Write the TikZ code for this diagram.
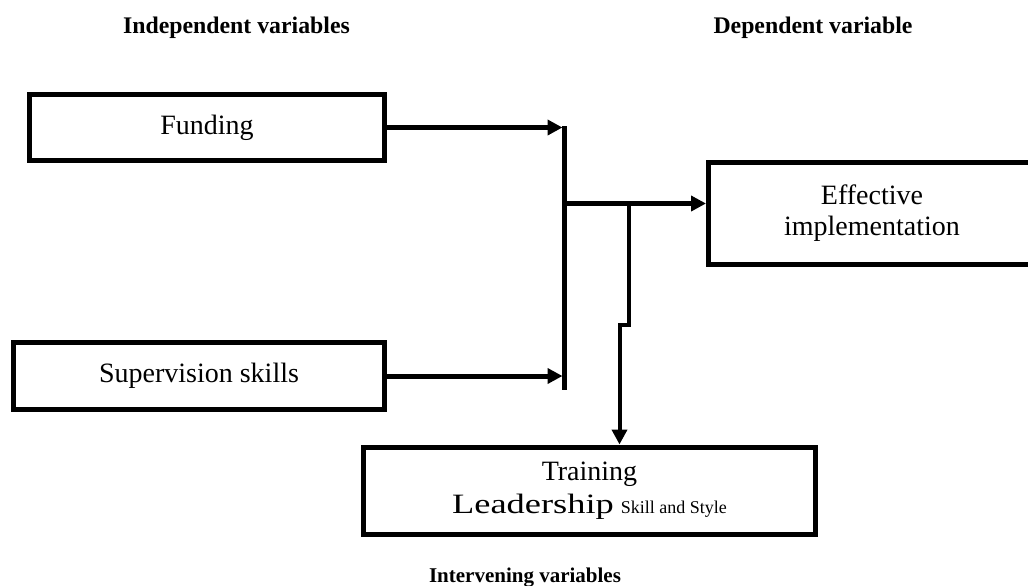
\documentclass[tikz,border=0pt]{standalone}
\usepackage{fontspec}
\setmainfont{Liberation Serif}
\usetikzlibrary{arrows.meta}
\tikzset{
  var box/.style={draw,line width=2.5pt,align=center,inner sep=0pt,
    font=\fontsize{14}{15.5}\selectfont},
  var link/.style={line width=2.5pt,shorten >=1pt,
    -{Triangle[length=7.5pt,width=7.5pt]}},
  var head/.style={anchor=base,font=\fontsize{11.9}{13}\selectfont\bfseries},
}

\begin{document}
\begin{tikzpicture}[x=0.5pt,y=-0.5pt]
\useasboundingbox (0,0) rectangle (1028,585);
\clip (0,0) rectangle (1028,585);

\node[var head] (head-indep) at (236.5,33) {Independent variables};
\node[var head] (head-dep) at (813,33) {Dependent variable};
\node[var head,font=\fontsize{10.5}{12}\selectfont\bfseries] (head-interv) at (525,582) {Intervening variables};

\node[var box,minimum width=177.5pt,minimum height=33pt] (box-funding) at (207,127.5) {Funding};
\node[var box,minimum width=185.5pt,minimum height=33.5pt] (box-supervision) at (199,376) {Supervision skills};
\node[var box,minimum width=163.5pt,minimum height=51pt] (box-effective) at (872,213.5) {Effective\\implementation};
\node[var box,minimum width=226pt,minimum height=43.75pt,font=\fontsize{14}{16.5}\selectfont] (box-training) at (589.5,490.75)
  {Training\\\scalebox{1.3}[1]{Leadership} {\fontsize{9}{10}\selectfont Skill and Style}};

\coordinate (bar-top) at (564.5,126);
\coordinate (bar-bottom) at (564.5,390);
\coordinate (bar-join) at (564.5,203.5);
\coordinate (split) at (629,203.5);
\coordinate (kink) at (629,325);

\draw[line width=2.5pt] (bar-top) -- (bar-bottom);
\draw[var link] (box-funding.east) -- (box-funding.east -| bar-top);
\draw[var link] (box-supervision.east) -- (box-supervision.east -| bar-top);
\draw[var link,shorten >=0pt] (bar-join) -- (bar-join -| box-effective.west);
\draw[var link,line width=2pt,shorten >=0pt] (split) -- (kink) -- ++(-9.5,0) coordinate (kink-low)
  -- (kink-low |- box-training.north);
\end{tikzpicture}
\end{document}
